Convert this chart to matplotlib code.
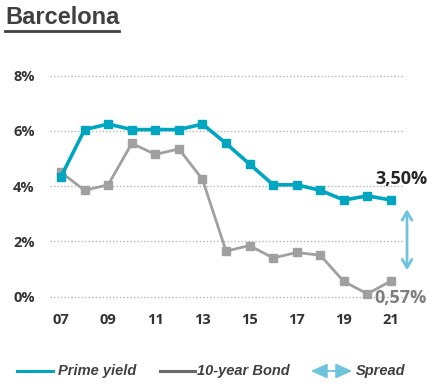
import matplotlib
matplotlib.use('Agg')
import matplotlib.pyplot as plt
from matplotlib.lines import Line2D
from matplotlib.patches import FancyArrowPatch

years = list(range(2007, 2022))
prime_yield = [4.35, 6.05, 6.25, 6.05, 6.05, 6.05, 6.25, 5.55, 4.8, 4.05, 4.05, 3.85, 3.5, 3.65, 3.5]
bond_10y = [4.5, 3.85, 4.05, 5.55, 5.15, 5.35, 4.25, 1.65, 1.85, 1.4, 1.6, 1.5, 0.55, 0.1, 0.57]
y_ticks = [0, 2, 4, 6, 8]
x_ticks = [2007, 2009, 2011, 2013, 2015, 2017, 2019, 2021]

teal = '#00a5c0'
gray = '#a0a0a0'
light_blue = '#6ec3dd'
dark = '#333333'

fig = plt.figure(figsize=(4.47, 3.91), dpi=100)
ax = fig.add_axes([50 / 447, 1 - 307.7 / 391, 353 / 447, 243 / 391])

# series
ax.plot(years, bond_10y, color=gray, lw=2, marker='s', ms=5.5, zorder=3)
ax.plot(years, prime_yield, color=teal, lw=2.6, marker='s', ms=5.5, zorder=4)

ax.set_xlim(2006.53, 2021.51)
ax.set_ylim(-0.4, 8.4)
ax.set_yticks(y_ticks)
ax.set_yticklabels([f'{v}%' for v in y_ticks])
ax.set_xticks(x_ticks)
ax.set_xticklabels([str(y)[2:] for y in x_ticks])
for lab in ax.get_yticklabels() + ax.get_xticklabels():
    lab.set_fontfamily('Open Sans')
    lab.set_fontweight('bold')
    lab.set_fontsize(10.5)
    lab.set_color(dark)
ax.tick_params(axis='y', length=0, pad=11)
ax.tick_params(axis='x', length=0, pad=4)
ax.grid(axis='y', linestyle=(0, (1, 1.5)), color='#b5b5b5', lw=1)
ax.set_axisbelow(True)
for s in ax.spines.values():
    s.set_visible(False)

# end value labels
ax.annotate(f'{prime_yield[-1]:.2f}%'.replace('.', ','), xy=(years[-1], prime_yield[-1]),
            xytext=(7.2, 15), textcoords='offset points', ha='center', va='center',
            fontsize=13, fontweight='bold', family='Open Sans', color='#262626',
            annotation_clip=False)
ax.annotate(f'{bond_10y[-1]:.2f}%'.replace('.', ','), xy=(years[-1], bond_10y[-1]),
            xytext=(7.2, -12.5), textcoords='offset points', ha='center', va='center',
            fontsize=13, fontweight='bold', family='Open Sans', color='#7f7f7f',
            annotation_clip=False)

# spread arrow
ax.annotate('', xy=(years[-1] + 0.68, prime_yield[-1] - 0.23),
            xytext=(years[-1] + 0.68, bond_10y[-1] + 0.28),
            arrowprops=dict(arrowstyle='<->,head_length=0.6,head_width=0.35',
                            color=light_blue, lw=2),
            annotation_clip=False)

# title with underline
title = fig.text(5 / 447, 1 - 18 / 391, 'Barcelona', fontsize=17, fontweight='bold',
                 family='Liberation Sans', color='#404040', va='center', ha='left')
fig.canvas.draw()
bb = title.get_window_extent().transformed(fig.transFigure.inverted())
fig.add_artist(Line2D([bb.x0, bb.x1], [1 - 30.5 / 391] * 2, color='#404040', lw=2,
                      transform=fig.transFigure))

# legend
ly = 1 - 371 / 391
fig.add_artist(Line2D([17 / 447, 53 / 447], [ly, ly], color=teal, lw=2.2, transform=fig.transFigure))
fig.text(58 / 447, ly, 'Prime yield', fontsize=10.5, fontweight='bold', style='italic',
         family='Liberation Sans', color='#404040', va='center')
fig.add_artist(Line2D([160 / 447, 195 / 447], [ly, ly], color='#6a6a6a', lw=2.2, transform=fig.transFigure))
fig.text(197 / 447, ly, '10-year Bond', fontsize=10.5, fontweight='bold', style='italic',
         family='Liberation Sans', color='#404040', va='center')
fig.add_artist(FancyArrowPatch((308 / 447, ly), (355 / 447, ly), transform=fig.transFigure,
                               arrowstyle='<|-|>,head_length=10,head_width=4.5',
                               color=light_blue, lw=1.3, mutation_scale=1))
fig.text(356 / 447, ly, 'Spread', fontsize=10.5, fontweight='bold', style='italic',
         family='Liberation Sans', color='#404040', va='center')

fig.savefig('out.png', dpi=100)
